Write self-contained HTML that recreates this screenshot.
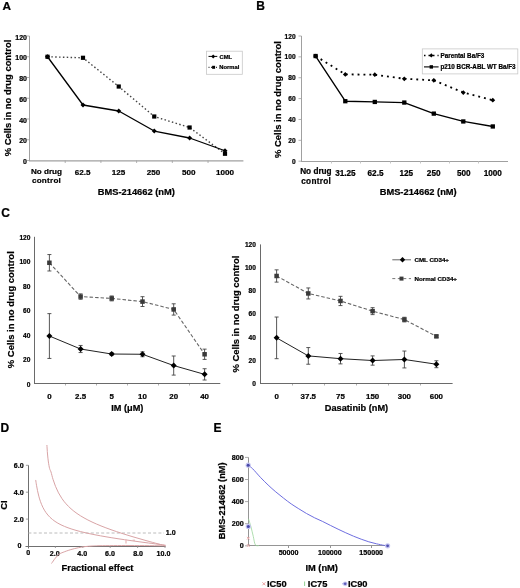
<!DOCTYPE html>
<html><head><meta charset="utf-8"><style>
html,body{margin:0;padding:0;background:#fff;width:520px;height:588px;overflow:hidden}
svg{display:block;font-family:"Liberation Sans", sans-serif;will-change:transform}
text{stroke:#000;stroke-width:0.22px;paint-order:stroke}
</style></head><body>
<svg width="520" height="588" viewBox="0 0 520 588">
<rect width="520" height="588" fill="#fff"/>
<text x="2.50" y="10.40" font-size="11.8" text-anchor="start" font-weight="bold" fill="#000" >A</text>
<line x1="29.50" y1="36.00" x2="29.50" y2="161.00" stroke="#a0a0a0" stroke-width="1" stroke-linecap="butt"/>
<line x1="29.00" y1="160.80" x2="243.40" y2="160.80" stroke="#a0a0a0" stroke-width="1.2" stroke-linecap="butt"/>
<line x1="27.00" y1="160.50" x2="29.50" y2="160.50" stroke="#a0a0a0" stroke-width="0.8" stroke-linecap="butt"/>
<text x="27.00" y="164.15" font-size="7" text-anchor="end" font-weight="bold" fill="#000" >0</text>
<line x1="27.00" y1="139.75" x2="29.50" y2="139.75" stroke="#a0a0a0" stroke-width="0.8" stroke-linecap="butt"/>
<text x="27.00" y="143.40" font-size="7" text-anchor="end" font-weight="bold" fill="#000" >20</text>
<line x1="27.00" y1="119.00" x2="29.50" y2="119.00" stroke="#a0a0a0" stroke-width="0.8" stroke-linecap="butt"/>
<text x="27.00" y="122.65" font-size="7" text-anchor="end" font-weight="bold" fill="#000" >40</text>
<line x1="27.00" y1="98.25" x2="29.50" y2="98.25" stroke="#a0a0a0" stroke-width="0.8" stroke-linecap="butt"/>
<text x="27.00" y="101.90" font-size="7" text-anchor="end" font-weight="bold" fill="#000" >60</text>
<line x1="27.00" y1="77.50" x2="29.50" y2="77.50" stroke="#a0a0a0" stroke-width="0.8" stroke-linecap="butt"/>
<text x="27.00" y="81.15" font-size="7" text-anchor="end" font-weight="bold" fill="#000" >80</text>
<line x1="27.00" y1="56.75" x2="29.50" y2="56.75" stroke="#a0a0a0" stroke-width="0.8" stroke-linecap="butt"/>
<text x="27.00" y="60.40" font-size="7" text-anchor="end" font-weight="bold" fill="#000" >100</text>
<line x1="27.00" y1="36.00" x2="29.50" y2="36.00" stroke="#a0a0a0" stroke-width="0.8" stroke-linecap="butt"/>
<text x="27.00" y="39.65" font-size="7" text-anchor="end" font-weight="bold" fill="#000" >120</text>
<line x1="65.21" y1="160.50" x2="65.21" y2="163.00" stroke="#a0a0a0" stroke-width="0.8" stroke-linecap="butt"/>
<line x1="100.92" y1="160.50" x2="100.92" y2="163.00" stroke="#a0a0a0" stroke-width="0.8" stroke-linecap="butt"/>
<line x1="136.62" y1="160.50" x2="136.62" y2="163.00" stroke="#a0a0a0" stroke-width="0.8" stroke-linecap="butt"/>
<line x1="172.33" y1="160.50" x2="172.33" y2="163.00" stroke="#a0a0a0" stroke-width="0.8" stroke-linecap="butt"/>
<line x1="208.04" y1="160.50" x2="208.04" y2="163.00" stroke="#a0a0a0" stroke-width="0.8" stroke-linecap="butt"/>
<text x="46.50" y="173.90" font-size="8.1" text-anchor="middle" font-weight="bold" fill="#000" >No drug</text>
<text x="46.50" y="183.20" font-size="8.1" text-anchor="middle" font-weight="bold" fill="#000" letter-spacing="0.25">control</text>
<text x="82.70" y="174.84" font-size="8.1" text-anchor="middle" font-weight="bold" fill="#000" >62.5</text>
<text x="118.50" y="174.84" font-size="8.1" text-anchor="middle" font-weight="bold" fill="#000" >125</text>
<text x="153.40" y="174.84" font-size="8.1" text-anchor="middle" font-weight="bold" fill="#000" >250</text>
<text x="188.80" y="174.84" font-size="8.1" text-anchor="middle" font-weight="bold" fill="#000" >500</text>
<text x="225.10" y="174.84" font-size="8.1" text-anchor="middle" font-weight="bold" fill="#000" >1000</text>
<text x="136.30" y="195.40" font-size="9.3" text-anchor="middle" font-weight="bold" fill="#000" >BMS-214662 (nM)</text>
<text transform="translate(11.20,98.00) rotate(-90)" x="0" y="0" font-size="9.42" text-anchor="middle" font-weight="bold">% Cells in no drug control</text>
<polyline points="47.50,56.75 83.00,57.79 118.75,86.53 154.25,116.51 189.60,127.51 225.00,153.76" fill="none" stroke="#444" stroke-width="1.4" stroke-dasharray="1.5 2.35" stroke-linecap="butt" stroke-linejoin="round"/>
<polyline points="47.50,56.75 83.00,104.99 118.75,111.01 154.25,131.03 189.60,137.99 225.00,150.75" fill="none" stroke="#000" stroke-width="1.3" stroke-linecap="butt" stroke-linejoin="round"/>
<polygon points="47.50,54.25 50.00,56.75 47.50,59.25 45.00,56.75" fill="#000"/>
<polygon points="83.00,102.49 85.50,104.99 83.00,107.49 80.50,104.99" fill="#000"/>
<polygon points="118.75,108.51 121.25,111.01 118.75,113.51 116.25,111.01" fill="#000"/>
<polygon points="154.25,128.53 156.75,131.03 154.25,133.53 151.75,131.03" fill="#000"/>
<polygon points="189.60,135.49 192.10,137.99 189.60,140.49 187.10,137.99" fill="#000"/>
<polygon points="225.00,148.25 227.50,150.75 225.00,153.25 222.50,150.75" fill="#000"/>
<rect x="45.40" y="54.65" width="4.2" height="4.2" fill="#000"/>
<rect x="80.90" y="55.69" width="4.2" height="4.2" fill="#000"/>
<rect x="116.65" y="84.43" width="4.2" height="4.2" fill="#000"/>
<rect x="152.15" y="114.41" width="4.2" height="4.2" fill="#000"/>
<rect x="187.50" y="125.41" width="4.2" height="4.2" fill="#000"/>
<rect x="222.90" y="151.66" width="4.2" height="4.2" fill="#000"/>
<rect x="206.5" y="51.2" width="35.8" height="23.1" fill="#fff" stroke="#c8c8c8" stroke-width="0.8"/>
<line x1="208.50" y1="56.40" x2="217.30" y2="56.40" stroke="#000" stroke-width="1" stroke-linecap="butt"/>
<polygon points="213.20,54.40 215.20,56.40 213.20,58.40 211.20,56.40" fill="#000"/>
<line x1="208.50" y1="67.30" x2="217.30" y2="67.30" stroke="#000" stroke-width="1" stroke-dasharray="1 1.5" stroke-linecap="butt"/>
<rect x="212.10" y="65.80" width="3" height="3" fill="#000"/>
<text x="219.60" y="58.80" font-size="5.8" text-anchor="start" font-weight="bold" fill="#000" >CML</text>
<text x="219.30" y="69.10" font-size="5.8" text-anchor="start" font-weight="bold" fill="#000" >Normal</text>
<text x="256.20" y="9.80" font-size="12" text-anchor="start" font-weight="bold" fill="#000" >B</text>
<line x1="301.50" y1="36.00" x2="301.50" y2="162.00" stroke="#a0a0a0" stroke-width="1" stroke-linecap="butt"/>
<line x1="301.00" y1="161.50" x2="508.00" y2="161.50" stroke="#a0a0a0" stroke-width="1" stroke-linecap="butt"/>
<line x1="298.50" y1="161.20" x2="301.50" y2="161.20" stroke="#a0a0a0" stroke-width="0.8" stroke-linecap="butt"/>
<text x="295.60" y="163.81" font-size="6.6" text-anchor="end" font-weight="bold" fill="#000" >0</text>
<line x1="298.50" y1="140.33" x2="301.50" y2="140.33" stroke="#a0a0a0" stroke-width="0.8" stroke-linecap="butt"/>
<text x="295.60" y="142.94" font-size="6.6" text-anchor="end" font-weight="bold" fill="#000" >20</text>
<line x1="298.50" y1="119.47" x2="301.50" y2="119.47" stroke="#a0a0a0" stroke-width="0.8" stroke-linecap="butt"/>
<text x="295.60" y="122.08" font-size="6.6" text-anchor="end" font-weight="bold" fill="#000" >40</text>
<line x1="298.50" y1="98.60" x2="301.50" y2="98.60" stroke="#a0a0a0" stroke-width="0.8" stroke-linecap="butt"/>
<text x="295.60" y="101.21" font-size="6.6" text-anchor="end" font-weight="bold" fill="#000" >60</text>
<line x1="298.50" y1="77.73" x2="301.50" y2="77.73" stroke="#a0a0a0" stroke-width="0.8" stroke-linecap="butt"/>
<text x="295.60" y="80.34" font-size="6.6" text-anchor="end" font-weight="bold" fill="#000" >80</text>
<line x1="298.50" y1="56.87" x2="301.50" y2="56.87" stroke="#a0a0a0" stroke-width="0.8" stroke-linecap="butt"/>
<text x="295.60" y="59.48" font-size="6.6" text-anchor="end" font-weight="bold" fill="#000" >100</text>
<line x1="298.50" y1="36.00" x2="301.50" y2="36.00" stroke="#a0a0a0" stroke-width="0.8" stroke-linecap="butt"/>
<text x="295.60" y="38.61" font-size="6.6" text-anchor="end" font-weight="bold" fill="#000" >120</text>
<line x1="331.50" y1="161.50" x2="331.50" y2="163.50" stroke="#c8c8c8" stroke-width="1" stroke-linecap="butt"/>
<line x1="360.50" y1="161.50" x2="360.50" y2="163.50" stroke="#c8c8c8" stroke-width="1" stroke-linecap="butt"/>
<line x1="390.50" y1="161.50" x2="390.50" y2="163.50" stroke="#c8c8c8" stroke-width="1" stroke-linecap="butt"/>
<line x1="420.50" y1="161.50" x2="420.50" y2="163.50" stroke="#c8c8c8" stroke-width="1" stroke-linecap="butt"/>
<line x1="449.50" y1="161.50" x2="449.50" y2="163.50" stroke="#c8c8c8" stroke-width="1" stroke-linecap="butt"/>
<line x1="478.50" y1="161.50" x2="478.50" y2="163.50" stroke="#c8c8c8" stroke-width="1" stroke-linecap="butt"/>
<text x="315.90" y="173.60" font-size="8.2" text-anchor="middle" font-weight="bold" fill="#000" >No drug</text>
<text x="316.20" y="184.00" font-size="8.2" text-anchor="middle" font-weight="bold" fill="#000" letter-spacing="0.3">control</text>
<text x="345.45" y="175.67" font-size="8.2" text-anchor="middle" font-weight="bold" fill="#000" >31.25</text>
<text x="375.50" y="175.67" font-size="8.2" text-anchor="middle" font-weight="bold" fill="#000" >62.5</text>
<text x="406.30" y="175.67" font-size="8.2" text-anchor="middle" font-weight="bold" fill="#000" >125</text>
<text x="433.70" y="175.67" font-size="8.2" text-anchor="middle" font-weight="bold" fill="#000" >250</text>
<text x="463.80" y="175.67" font-size="8.2" text-anchor="middle" font-weight="bold" fill="#000" >500</text>
<text x="492.80" y="175.67" font-size="8.2" text-anchor="middle" font-weight="bold" fill="#000" >1000</text>
<text x="418.20" y="195.40" font-size="9.3" text-anchor="middle" font-weight="bold" fill="#000" >BMS-214662 (nM)</text>
<text transform="translate(280.70,99.60) rotate(-90)" x="0" y="0" font-size="9.45" text-anchor="middle" font-weight="bold">% Cells in no drug control</text>
<polyline points="315.60,56.03 345.30,74.39 374.80,74.71 404.30,78.78 433.80,80.34 463.30,92.55 492.80,100.16" fill="none" stroke="#000" stroke-width="1.8" stroke-dasharray="1.9 4.0" stroke-linecap="butt" stroke-linejoin="round"/>
<polyline points="315.60,56.03 345.30,101.21 374.80,101.94 404.30,102.56 433.80,113.62 463.30,121.45 492.80,126.46" fill="none" stroke="#000" stroke-width="1.35" stroke-linecap="butt" stroke-linejoin="round"/>
<polygon points="315.60,53.63 318.00,56.03 315.60,58.43 313.20,56.03" fill="#000"/>
<polygon points="345.30,71.99 347.70,74.39 345.30,76.79 342.90,74.39" fill="#000"/>
<polygon points="374.80,72.31 377.20,74.71 374.80,77.11 372.40,74.71" fill="#000"/>
<polygon points="404.30,76.38 406.70,78.78 404.30,81.18 401.90,78.78" fill="#000"/>
<polygon points="433.80,77.94 436.20,80.34 433.80,82.74 431.40,80.34" fill="#000"/>
<polygon points="463.30,90.15 465.70,92.55 463.30,94.95 460.90,92.55" fill="#000"/>
<polygon points="492.80,97.76 495.20,100.16 492.80,102.56 490.40,100.16" fill="#000"/>
<rect x="313.45" y="53.88" width="4.3" height="4.3" fill="#000"/>
<rect x="343.15" y="99.06" width="4.3" height="4.3" fill="#000"/>
<rect x="372.65" y="99.79" width="4.3" height="4.3" fill="#000"/>
<rect x="402.15" y="100.41" width="4.3" height="4.3" fill="#000"/>
<rect x="431.65" y="111.47" width="4.3" height="4.3" fill="#000"/>
<rect x="461.15" y="119.30" width="4.3" height="4.3" fill="#000"/>
<rect x="490.65" y="124.31" width="4.3" height="4.3" fill="#000"/>
<rect x="422.3" y="48.9" width="95.5" height="25" fill="#fff" stroke="#c8c8c8" stroke-width="0.8"/>
<line x1="424.00" y1="55.40" x2="438.60" y2="55.40" stroke="#000" stroke-width="1.5" stroke-dasharray="1.5 3" stroke-linecap="butt"/>
<polygon points="431.30,53.30 433.40,55.40 431.30,57.50 429.20,55.40" fill="#000"/>
<line x1="424.00" y1="66.90" x2="438.60" y2="66.90" stroke="#000" stroke-width="1.1" stroke-linecap="butt"/>
<rect x="429.60" y="65.20" width="3.4" height="3.4" fill="#000"/>
<text x="440.50" y="58.20" font-size="6.3" text-anchor="start" font-weight="bold" fill="#000" >Parental Ba/F3</text>
<text x="440.50" y="69.30" font-size="6.3" text-anchor="start" font-weight="bold" fill="#000" >p210 BCR-ABL WT Ba/F3</text>
<text x="1.30" y="216.80" font-size="12" text-anchor="start" font-weight="bold" fill="#000" >C</text>
<line x1="34.50" y1="236.80" x2="34.50" y2="384.00" stroke="#6a6a6a" stroke-width="1" stroke-linecap="butt"/>
<line x1="34.00" y1="383.50" x2="220.30" y2="383.50" stroke="#6a6a6a" stroke-width="1" stroke-linecap="butt"/>
<text x="30.40" y="386.61" font-size="6.6" text-anchor="end" font-weight="bold" fill="#000" >0</text>
<text x="30.40" y="362.11" font-size="6.6" text-anchor="end" font-weight="bold" fill="#000" >20</text>
<text x="30.40" y="337.61" font-size="6.6" text-anchor="end" font-weight="bold" fill="#000" >40</text>
<text x="30.40" y="313.11" font-size="6.6" text-anchor="end" font-weight="bold" fill="#000" >60</text>
<text x="30.40" y="288.61" font-size="6.6" text-anchor="end" font-weight="bold" fill="#000" >80</text>
<text x="30.40" y="264.11" font-size="6.6" text-anchor="end" font-weight="bold" fill="#000" >100</text>
<text x="30.40" y="239.61" font-size="6.6" text-anchor="end" font-weight="bold" fill="#000" >120</text>
<line x1="65.50" y1="384.00" x2="65.50" y2="385.50" stroke="#b0b0b0" stroke-width="1" stroke-linecap="butt"/>
<line x1="96.50" y1="384.00" x2="96.50" y2="385.50" stroke="#b0b0b0" stroke-width="1" stroke-linecap="butt"/>
<line x1="127.50" y1="384.00" x2="127.50" y2="385.50" stroke="#b0b0b0" stroke-width="1" stroke-linecap="butt"/>
<line x1="158.50" y1="384.00" x2="158.50" y2="385.50" stroke="#b0b0b0" stroke-width="1" stroke-linecap="butt"/>
<line x1="189.50" y1="384.00" x2="189.50" y2="385.50" stroke="#b0b0b0" stroke-width="1" stroke-linecap="butt"/>
<text x="49.40" y="398.56" font-size="7.9" text-anchor="middle" font-weight="bold" fill="#000" >0</text>
<text x="80.60" y="398.56" font-size="7.9" text-anchor="middle" font-weight="bold" fill="#000" >2.5</text>
<text x="111.70" y="398.56" font-size="7.9" text-anchor="middle" font-weight="bold" fill="#000" >5</text>
<text x="142.50" y="398.56" font-size="7.9" text-anchor="middle" font-weight="bold" fill="#000" >10</text>
<text x="173.70" y="398.56" font-size="7.9" text-anchor="middle" font-weight="bold" fill="#000" >20</text>
<text x="204.60" y="398.56" font-size="7.9" text-anchor="middle" font-weight="bold" fill="#000" >40</text>
<text x="127.30" y="410.90" font-size="9.2" text-anchor="middle" font-weight="bold" fill="#000" >IM (μM)</text>
<text transform="translate(14.30,309.70) rotate(-90)" x="0" y="0" font-size="9.45" text-anchor="middle" font-weight="bold">% Cells in no drug control</text>
<polyline points="49.40,262.77 80.60,296.58 111.70,298.42 142.50,301.60 173.70,309.44 204.60,354.28" fill="none" stroke="#666" stroke-width="1.1" stroke-dasharray="3.5 2" stroke-linecap="butt" stroke-linejoin="round"/>
<polyline points="49.40,336.03 80.60,349.01 111.70,354.03 142.50,354.28 173.70,365.55 204.60,374.37" fill="none" stroke="#222" stroke-width="1" stroke-linecap="butt" stroke-linejoin="round"/>
<line x1="49.40" y1="254.56" x2="49.40" y2="270.98" stroke="#444" stroke-width="0.9" stroke-linecap="butt"/>
<line x1="47.40" y1="254.56" x2="51.40" y2="254.56" stroke="#444" stroke-width="0.9" stroke-linecap="butt"/>
<line x1="47.40" y1="270.98" x2="51.40" y2="270.98" stroke="#444" stroke-width="0.9" stroke-linecap="butt"/>
<line x1="49.40" y1="313.61" x2="49.40" y2="358.44" stroke="#444" stroke-width="0.9" stroke-linecap="butt"/>
<line x1="47.40" y1="313.61" x2="51.40" y2="313.61" stroke="#444" stroke-width="0.9" stroke-linecap="butt"/>
<line x1="47.40" y1="358.44" x2="51.40" y2="358.44" stroke="#444" stroke-width="0.9" stroke-linecap="butt"/>
<line x1="80.60" y1="293.88" x2="80.60" y2="299.27" stroke="#444" stroke-width="0.9" stroke-linecap="butt"/>
<line x1="78.60" y1="293.88" x2="82.60" y2="293.88" stroke="#444" stroke-width="0.9" stroke-linecap="butt"/>
<line x1="78.60" y1="299.27" x2="82.60" y2="299.27" stroke="#444" stroke-width="0.9" stroke-linecap="butt"/>
<line x1="80.60" y1="345.46" x2="80.60" y2="352.56" stroke="#444" stroke-width="0.9" stroke-linecap="butt"/>
<line x1="78.60" y1="345.46" x2="82.60" y2="345.46" stroke="#444" stroke-width="0.9" stroke-linecap="butt"/>
<line x1="78.60" y1="352.56" x2="82.60" y2="352.56" stroke="#444" stroke-width="0.9" stroke-linecap="butt"/>
<line x1="111.70" y1="295.97" x2="111.70" y2="300.87" stroke="#444" stroke-width="0.9" stroke-linecap="butt"/>
<line x1="109.70" y1="295.97" x2="113.70" y2="295.97" stroke="#444" stroke-width="0.9" stroke-linecap="butt"/>
<line x1="109.70" y1="300.87" x2="113.70" y2="300.87" stroke="#444" stroke-width="0.9" stroke-linecap="butt"/>
<line x1="111.70" y1="352.81" x2="111.70" y2="355.26" stroke="#444" stroke-width="0.9" stroke-linecap="butt"/>
<line x1="109.70" y1="352.81" x2="113.70" y2="352.81" stroke="#444" stroke-width="0.9" stroke-linecap="butt"/>
<line x1="109.70" y1="355.26" x2="113.70" y2="355.26" stroke="#444" stroke-width="0.9" stroke-linecap="butt"/>
<line x1="142.50" y1="296.70" x2="142.50" y2="306.50" stroke="#444" stroke-width="0.9" stroke-linecap="butt"/>
<line x1="140.50" y1="296.70" x2="144.50" y2="296.70" stroke="#444" stroke-width="0.9" stroke-linecap="butt"/>
<line x1="140.50" y1="306.50" x2="144.50" y2="306.50" stroke="#444" stroke-width="0.9" stroke-linecap="butt"/>
<line x1="142.50" y1="351.83" x2="142.50" y2="356.73" stroke="#444" stroke-width="0.9" stroke-linecap="butt"/>
<line x1="140.50" y1="351.83" x2="144.50" y2="351.83" stroke="#444" stroke-width="0.9" stroke-linecap="butt"/>
<line x1="140.50" y1="356.73" x2="144.50" y2="356.73" stroke="#444" stroke-width="0.9" stroke-linecap="butt"/>
<line x1="173.70" y1="303.81" x2="173.70" y2="315.08" stroke="#444" stroke-width="0.9" stroke-linecap="butt"/>
<line x1="171.70" y1="303.81" x2="175.70" y2="303.81" stroke="#444" stroke-width="0.9" stroke-linecap="butt"/>
<line x1="171.70" y1="315.08" x2="175.70" y2="315.08" stroke="#444" stroke-width="0.9" stroke-linecap="butt"/>
<line x1="173.70" y1="355.99" x2="173.70" y2="375.10" stroke="#444" stroke-width="0.9" stroke-linecap="butt"/>
<line x1="171.70" y1="355.99" x2="175.70" y2="355.99" stroke="#444" stroke-width="0.9" stroke-linecap="butt"/>
<line x1="171.70" y1="375.10" x2="175.70" y2="375.10" stroke="#444" stroke-width="0.9" stroke-linecap="butt"/>
<line x1="204.60" y1="349.13" x2="204.60" y2="359.42" stroke="#444" stroke-width="0.9" stroke-linecap="butt"/>
<line x1="202.60" y1="349.13" x2="206.60" y2="349.13" stroke="#444" stroke-width="0.9" stroke-linecap="butt"/>
<line x1="202.60" y1="359.42" x2="206.60" y2="359.42" stroke="#444" stroke-width="0.9" stroke-linecap="butt"/>
<line x1="204.60" y1="368.73" x2="204.60" y2="380.00" stroke="#444" stroke-width="0.9" stroke-linecap="butt"/>
<line x1="202.60" y1="368.73" x2="206.60" y2="368.73" stroke="#444" stroke-width="0.9" stroke-linecap="butt"/>
<line x1="202.60" y1="380.00" x2="206.60" y2="380.00" stroke="#444" stroke-width="0.9" stroke-linecap="butt"/>
<rect x="47.15" y="260.52" width="4.5" height="4.5" fill="#3a3a3a"/>
<rect x="78.35" y="294.33" width="4.5" height="4.5" fill="#3a3a3a"/>
<rect x="109.45" y="296.17" width="4.5" height="4.5" fill="#3a3a3a"/>
<rect x="140.25" y="299.35" width="4.5" height="4.5" fill="#3a3a3a"/>
<rect x="171.45" y="307.19" width="4.5" height="4.5" fill="#3a3a3a"/>
<rect x="202.35" y="352.03" width="4.5" height="4.5" fill="#3a3a3a"/>
<polygon points="49.40,333.03 52.40,336.03 49.40,339.03 46.40,336.03" fill="#000"/>
<polygon points="80.60,346.01 83.60,349.01 80.60,352.01 77.60,349.01" fill="#000"/>
<polygon points="111.70,351.03 114.70,354.03 111.70,357.03 108.70,354.03" fill="#000"/>
<polygon points="142.50,351.28 145.50,354.28 142.50,357.28 139.50,354.28" fill="#000"/>
<polygon points="173.70,362.55 176.70,365.55 173.70,368.55 170.70,365.55" fill="#000"/>
<polygon points="204.60,371.37 207.60,374.37 204.60,377.37 201.60,374.37" fill="#000"/>
<line x1="260.50" y1="244.40" x2="260.50" y2="384.00" stroke="#6a6a6a" stroke-width="1" stroke-linecap="butt"/>
<line x1="260.00" y1="383.50" x2="452.60" y2="383.50" stroke="#6a6a6a" stroke-width="1" stroke-linecap="butt"/>
<text x="255.90" y="385.86" font-size="6.6" text-anchor="end" font-weight="bold" fill="#000" >0</text>
<text x="255.90" y="362.73" font-size="6.6" text-anchor="end" font-weight="bold" fill="#000" >20</text>
<text x="255.90" y="339.59" font-size="6.6" text-anchor="end" font-weight="bold" fill="#000" >40</text>
<text x="255.90" y="316.46" font-size="6.6" text-anchor="end" font-weight="bold" fill="#000" >60</text>
<text x="255.90" y="293.33" font-size="6.6" text-anchor="end" font-weight="bold" fill="#000" >80</text>
<text x="255.90" y="270.19" font-size="6.6" text-anchor="end" font-weight="bold" fill="#000" >100</text>
<text x="255.90" y="247.06" font-size="6.6" text-anchor="end" font-weight="bold" fill="#000" >120</text>
<line x1="292.50" y1="384.00" x2="292.50" y2="385.50" stroke="#b0b0b0" stroke-width="1" stroke-linecap="butt"/>
<line x1="324.50" y1="384.00" x2="324.50" y2="385.50" stroke="#b0b0b0" stroke-width="1" stroke-linecap="butt"/>
<line x1="356.50" y1="384.00" x2="356.50" y2="385.50" stroke="#b0b0b0" stroke-width="1" stroke-linecap="butt"/>
<line x1="388.50" y1="384.00" x2="388.50" y2="385.50" stroke="#b0b0b0" stroke-width="1" stroke-linecap="butt"/>
<line x1="420.50" y1="384.00" x2="420.50" y2="385.50" stroke="#b0b0b0" stroke-width="1" stroke-linecap="butt"/>
<text x="276.60" y="398.76" font-size="7.9" text-anchor="middle" font-weight="bold" fill="#000" >0</text>
<text x="308.30" y="398.76" font-size="7.9" text-anchor="middle" font-weight="bold" fill="#000" >37.5</text>
<text x="340.50" y="398.76" font-size="7.9" text-anchor="middle" font-weight="bold" fill="#000" >75</text>
<text x="372.60" y="398.76" font-size="7.9" text-anchor="middle" font-weight="bold" fill="#000" >150</text>
<text x="404.40" y="398.76" font-size="7.9" text-anchor="middle" font-weight="bold" fill="#000" >300</text>
<text x="436.40" y="398.76" font-size="7.9" text-anchor="middle" font-weight="bold" fill="#000" >600</text>
<text x="356.50" y="411.00" font-size="9.2" text-anchor="middle" font-weight="bold" fill="#000" >Dasatinib (nM)</text>
<text transform="translate(239.20,314.10) rotate(-90)" x="0" y="0" font-size="9.45" text-anchor="middle" font-weight="bold">% Cells in no drug control</text>
<polyline points="276.60,275.98 308.30,293.44 340.50,300.96 372.60,311.14 404.40,319.58 436.40,336.36" fill="none" stroke="#666" stroke-width="1.1" stroke-dasharray="3.5 2" stroke-linecap="butt" stroke-linejoin="round"/>
<polyline points="276.60,337.86 308.30,355.90 340.50,358.68 372.60,360.53 404.40,359.49 436.40,364.23" fill="none" stroke="#222" stroke-width="1" stroke-linecap="butt" stroke-linejoin="round"/>
<line x1="276.60" y1="269.85" x2="276.60" y2="282.11" stroke="#444" stroke-width="0.9" stroke-linecap="butt"/>
<line x1="274.60" y1="269.85" x2="278.60" y2="269.85" stroke="#444" stroke-width="0.9" stroke-linecap="butt"/>
<line x1="274.60" y1="282.11" x2="278.60" y2="282.11" stroke="#444" stroke-width="0.9" stroke-linecap="butt"/>
<line x1="276.60" y1="317.04" x2="276.60" y2="358.68" stroke="#444" stroke-width="0.9" stroke-linecap="butt"/>
<line x1="274.60" y1="317.04" x2="278.60" y2="317.04" stroke="#444" stroke-width="0.9" stroke-linecap="butt"/>
<line x1="274.60" y1="358.68" x2="278.60" y2="358.68" stroke="#444" stroke-width="0.9" stroke-linecap="butt"/>
<line x1="308.30" y1="287.95" x2="308.30" y2="298.94" stroke="#444" stroke-width="0.9" stroke-linecap="butt"/>
<line x1="306.30" y1="287.95" x2="310.30" y2="287.95" stroke="#444" stroke-width="0.9" stroke-linecap="butt"/>
<line x1="306.30" y1="298.94" x2="310.30" y2="298.94" stroke="#444" stroke-width="0.9" stroke-linecap="butt"/>
<line x1="308.30" y1="347.57" x2="308.30" y2="364.23" stroke="#444" stroke-width="0.9" stroke-linecap="butt"/>
<line x1="306.30" y1="347.57" x2="310.30" y2="347.57" stroke="#444" stroke-width="0.9" stroke-linecap="butt"/>
<line x1="306.30" y1="364.23" x2="310.30" y2="364.23" stroke="#444" stroke-width="0.9" stroke-linecap="butt"/>
<line x1="340.50" y1="296.33" x2="340.50" y2="305.59" stroke="#444" stroke-width="0.9" stroke-linecap="butt"/>
<line x1="338.50" y1="296.33" x2="342.50" y2="296.33" stroke="#444" stroke-width="0.9" stroke-linecap="butt"/>
<line x1="338.50" y1="305.59" x2="342.50" y2="305.59" stroke="#444" stroke-width="0.9" stroke-linecap="butt"/>
<line x1="340.50" y1="353.47" x2="340.50" y2="363.88" stroke="#444" stroke-width="0.9" stroke-linecap="butt"/>
<line x1="338.50" y1="353.47" x2="342.50" y2="353.47" stroke="#444" stroke-width="0.9" stroke-linecap="butt"/>
<line x1="338.50" y1="363.88" x2="342.50" y2="363.88" stroke="#444" stroke-width="0.9" stroke-linecap="butt"/>
<line x1="372.60" y1="307.67" x2="372.60" y2="314.61" stroke="#444" stroke-width="0.9" stroke-linecap="butt"/>
<line x1="370.60" y1="307.67" x2="374.60" y2="307.67" stroke="#444" stroke-width="0.9" stroke-linecap="butt"/>
<line x1="370.60" y1="314.61" x2="374.60" y2="314.61" stroke="#444" stroke-width="0.9" stroke-linecap="butt"/>
<line x1="372.60" y1="355.90" x2="372.60" y2="365.16" stroke="#444" stroke-width="0.9" stroke-linecap="butt"/>
<line x1="370.60" y1="355.90" x2="374.60" y2="355.90" stroke="#444" stroke-width="0.9" stroke-linecap="butt"/>
<line x1="370.60" y1="365.16" x2="374.60" y2="365.16" stroke="#444" stroke-width="0.9" stroke-linecap="butt"/>
<line x1="404.40" y1="317.27" x2="404.40" y2="321.90" stroke="#444" stroke-width="0.9" stroke-linecap="butt"/>
<line x1="402.40" y1="317.27" x2="406.40" y2="317.27" stroke="#444" stroke-width="0.9" stroke-linecap="butt"/>
<line x1="402.40" y1="321.90" x2="406.40" y2="321.90" stroke="#444" stroke-width="0.9" stroke-linecap="butt"/>
<line x1="404.40" y1="351.04" x2="404.40" y2="367.93" stroke="#444" stroke-width="0.9" stroke-linecap="butt"/>
<line x1="402.40" y1="351.04" x2="406.40" y2="351.04" stroke="#444" stroke-width="0.9" stroke-linecap="butt"/>
<line x1="402.40" y1="367.93" x2="406.40" y2="367.93" stroke="#444" stroke-width="0.9" stroke-linecap="butt"/>
<line x1="436.40" y1="335.20" x2="436.40" y2="337.51" stroke="#444" stroke-width="0.9" stroke-linecap="butt"/>
<line x1="434.40" y1="335.20" x2="438.40" y2="335.20" stroke="#444" stroke-width="0.9" stroke-linecap="butt"/>
<line x1="434.40" y1="337.51" x2="438.40" y2="337.51" stroke="#444" stroke-width="0.9" stroke-linecap="butt"/>
<line x1="436.40" y1="360.76" x2="436.40" y2="367.70" stroke="#444" stroke-width="0.9" stroke-linecap="butt"/>
<line x1="434.40" y1="360.76" x2="438.40" y2="360.76" stroke="#444" stroke-width="0.9" stroke-linecap="butt"/>
<line x1="434.40" y1="367.70" x2="438.40" y2="367.70" stroke="#444" stroke-width="0.9" stroke-linecap="butt"/>
<rect x="274.35" y="273.73" width="4.5" height="4.5" fill="#3a3a3a"/>
<rect x="306.05" y="291.19" width="4.5" height="4.5" fill="#3a3a3a"/>
<rect x="338.25" y="298.71" width="4.5" height="4.5" fill="#3a3a3a"/>
<rect x="370.35" y="308.89" width="4.5" height="4.5" fill="#3a3a3a"/>
<rect x="402.15" y="317.33" width="4.5" height="4.5" fill="#3a3a3a"/>
<rect x="434.15" y="334.11" width="4.5" height="4.5" fill="#3a3a3a"/>
<polygon points="276.60,334.86 279.60,337.86 276.60,340.86 273.60,337.86" fill="#000"/>
<polygon points="308.30,352.90 311.30,355.90 308.30,358.90 305.30,355.90" fill="#000"/>
<polygon points="340.50,355.68 343.50,358.68 340.50,361.68 337.50,358.68" fill="#000"/>
<polygon points="372.60,357.53 375.60,360.53 372.60,363.53 369.60,360.53" fill="#000"/>
<polygon points="404.40,356.49 407.40,359.49 404.40,362.49 401.40,359.49" fill="#000"/>
<polygon points="436.40,361.23 439.40,364.23 436.40,367.23 433.40,364.23" fill="#000"/>
<line x1="392.30" y1="259.80" x2="411.00" y2="259.80" stroke="#666" stroke-width="1" stroke-linecap="butt"/>
<polygon points="402.50,257.10 405.20,259.80 402.50,262.50 399.80,259.80" fill="#000"/>
<line x1="392.30" y1="278.60" x2="411.00" y2="278.60" stroke="#777" stroke-width="1" stroke-dasharray="3 2.5" stroke-linecap="butt"/>
<rect x="399.50" y="276.60" width="4.0" height="4.0" fill="#3a3a3a"/>
<text x="414.50" y="262.00" font-size="6.2" text-anchor="start" font-weight="bold" fill="#000" >CML CD34+</text>
<text x="414.50" y="280.80" font-size="6.2" text-anchor="start" font-weight="bold" fill="#000" >Normal CD34+</text>
<text x="0.40" y="431.70" font-size="12" text-anchor="start" font-weight="bold" fill="#000" >D</text>
<line x1="28.50" y1="465.30" x2="28.50" y2="548.50" stroke="#707070" stroke-width="1" stroke-linecap="butt"/>
<line x1="25.50" y1="546.50" x2="165.50" y2="546.50" stroke="#707070" stroke-width="1" stroke-linecap="butt"/>
<line x1="25.90" y1="519.10" x2="28.50" y2="519.10" stroke="#888" stroke-width="0.8" stroke-linecap="butt"/>
<line x1="25.90" y1="492.20" x2="28.50" y2="492.20" stroke="#888" stroke-width="0.8" stroke-linecap="butt"/>
<line x1="25.90" y1="465.30" x2="28.50" y2="465.30" stroke="#888" stroke-width="0.8" stroke-linecap="butt"/>
<text x="23.60" y="521.59" font-size="7.1" text-anchor="end" font-weight="bold" fill="#000" >2.0</text>
<text x="23.60" y="494.69" font-size="7.1" text-anchor="end" font-weight="bold" fill="#000" >4.0</text>
<text x="23.60" y="467.79" font-size="7.1" text-anchor="end" font-weight="bold" fill="#000" >6.0</text>
<text x="19.50" y="548.19" font-size="7.1" text-anchor="middle" font-weight="bold" fill="#000" >0</text>
<line x1="55.40" y1="546.00" x2="55.40" y2="548.00" stroke="#888" stroke-width="0.8" stroke-linecap="butt"/>
<line x1="82.80" y1="546.00" x2="82.80" y2="548.00" stroke="#888" stroke-width="0.8" stroke-linecap="butt"/>
<line x1="110.20" y1="546.00" x2="110.20" y2="548.00" stroke="#888" stroke-width="0.8" stroke-linecap="butt"/>
<line x1="137.60" y1="546.00" x2="137.60" y2="548.00" stroke="#888" stroke-width="0.8" stroke-linecap="butt"/>
<line x1="165.00" y1="546.00" x2="165.00" y2="548.00" stroke="#888" stroke-width="0.8" stroke-linecap="butt"/>
<text x="28.20" y="555.49" font-size="7.1" text-anchor="middle" font-weight="bold" fill="#000" >0</text>
<text x="54.80" y="555.59" font-size="7.1" text-anchor="middle" font-weight="bold" fill="#000" >2.0</text>
<text x="82.20" y="555.59" font-size="7.1" text-anchor="middle" font-weight="bold" fill="#000" >4.0</text>
<text x="110.00" y="555.59" font-size="7.1" text-anchor="middle" font-weight="bold" fill="#000" >6.0</text>
<text x="138.10" y="555.59" font-size="7.1" text-anchor="middle" font-weight="bold" fill="#000" >8.0</text>
<text x="163.50" y="555.59" font-size="7.1" text-anchor="middle" font-weight="bold" fill="#000" >10.0</text>
<line x1="28.40" y1="533.00" x2="164.00" y2="533.00" stroke="#b4b4b4" stroke-width="0.9" stroke-dasharray="3 2.2" stroke-linecap="butt"/>
<text x="165.80" y="535.19" font-size="7.1" text-anchor="start" font-weight="bold" fill="#000" >1.0</text>
<text x="97.50" y="571.00" font-size="9.3" text-anchor="middle" font-weight="bold" fill="#000" >Fractional effect</text>
<text transform="translate(7.30,505.00) rotate(-90)" x="0" y="0" font-size="9.5" text-anchor="middle" font-weight="bold">CI</text>
<path d="M46.90,445.00 C47.00,446.50 47.25,451.17 47.50,454.00 C47.75,456.83 48.05,459.58 48.40,462.00 C48.75,464.42 49.17,466.84 49.60,468.50 C50.03,470.16 50.43,470.18 51.00,471.98 C51.57,473.78 52.25,476.91 53.00,479.31 C53.75,481.71 54.58,484.11 55.50,486.37 C56.42,488.63 57.42,490.80 58.50,492.85 C59.58,494.90 60.75,496.83 62.00,498.65 C63.25,500.47 64.50,502.09 66.00,503.78 C67.50,505.47 69.17,507.16 71.00,508.78 C72.83,510.40 74.83,511.97 77.00,513.49 C79.17,515.01 81.50,516.46 84.00,517.88 C86.50,519.30 89.17,520.66 92.00,522.00 C94.83,523.34 97.83,524.64 101.00,525.92 C104.17,527.20 107.50,528.45 111.00,529.70 C114.50,530.95 118.17,532.18 122.00,533.42 C125.83,534.66 130.00,535.93 134.00,537.12 C138.00,538.31 142.00,539.45 146.00,540.57 C150.00,541.69 154.75,542.97 158.00,543.85 C161.25,544.73 164.25,545.50 165.50,545.83" fill="none" stroke="#d9a4a6" stroke-width="1"/>
<path d="M35.70,479.97 C35.83,480.85 36.20,483.49 36.50,485.27 C36.80,487.05 37.12,488.82 37.50,490.64 C37.88,492.45 38.30,494.32 38.80,496.16 C39.30,498.00 39.80,499.78 40.50,501.69 C41.20,503.60 42.08,505.78 43.00,507.60 C43.92,509.42 44.83,511.00 46.00,512.62 C47.17,514.24 48.50,515.85 50.00,517.31 C51.50,518.77 53.17,520.12 55.00,521.38 C56.83,522.63 58.83,523.77 61.00,524.84 C63.17,525.91 65.50,526.87 68.00,527.79 C70.50,528.71 73.17,529.56 76.00,530.37 C78.83,531.18 81.83,531.93 85.00,532.67 C88.17,533.41 91.50,534.10 95.00,534.79 C98.50,535.48 102.17,536.13 106.00,536.79 C109.83,537.45 113.83,538.09 118.00,538.73 C122.17,539.37 126.50,540.00 131.00,540.64 C135.50,541.28 140.50,541.95 145.00,542.55 C149.50,543.15 154.58,543.79 158.00,544.23 C161.42,544.67 164.25,545.01 165.50,545.17" fill="none" stroke="#d9a4a6" stroke-width="1"/>
<path d="M51.50,563.50 C52.15,562.60 54.12,559.65 55.40,558.10 C56.68,556.55 57.92,555.17 59.20,554.20 C60.48,553.23 61.17,553.07 63.10,552.30 C65.03,551.53 68.23,550.37 70.80,549.60 C73.37,548.83 76.13,548.20 78.50,547.70 C80.87,547.20 82.75,546.88 85.00,546.60 C87.25,546.32 89.50,546.15 92.00,546.00 C94.50,545.85 93.67,545.78 100.00,545.70 C106.33,545.62 119.08,545.48 130.00,545.50 C140.92,545.52 159.58,545.75 165.50,545.80" fill="none" stroke="#d9a4a6" stroke-width="1"/>
<line x1="126.00" y1="539.50" x2="126.00" y2="543.40" stroke="#eab8b8" stroke-width="1.2" stroke-linecap="butt"/>
<line x1="132.60" y1="540.20" x2="135.00" y2="540.20" stroke="#e0b0b0" stroke-width="1" stroke-linecap="butt"/>
<text x="213.60" y="431.80" font-size="12" text-anchor="start" font-weight="bold" fill="#000" >E</text>
<line x1="248.50" y1="457.40" x2="248.50" y2="546.00" stroke="#959595" stroke-width="1" stroke-linecap="butt"/>
<line x1="248.00" y1="545.50" x2="388.50" y2="545.50" stroke="#959595" stroke-width="1" stroke-linecap="butt"/>
<line x1="245.00" y1="545.80" x2="248.50" y2="545.80" stroke="#959595" stroke-width="0.8" stroke-linecap="butt"/>
<text x="243.70" y="548.32" font-size="7.2" text-anchor="end" font-weight="bold" fill="#000" >0</text>
<line x1="245.00" y1="523.70" x2="248.50" y2="523.70" stroke="#959595" stroke-width="0.8" stroke-linecap="butt"/>
<text x="243.70" y="526.22" font-size="7.2" text-anchor="end" font-weight="bold" fill="#000" >200</text>
<line x1="245.00" y1="501.60" x2="248.50" y2="501.60" stroke="#959595" stroke-width="0.8" stroke-linecap="butt"/>
<text x="243.70" y="504.12" font-size="7.2" text-anchor="end" font-weight="bold" fill="#000" >400</text>
<line x1="245.00" y1="479.50" x2="248.50" y2="479.50" stroke="#959595" stroke-width="0.8" stroke-linecap="butt"/>
<text x="243.70" y="482.02" font-size="7.2" text-anchor="end" font-weight="bold" fill="#000" >600</text>
<line x1="245.00" y1="457.40" x2="248.50" y2="457.40" stroke="#959595" stroke-width="0.8" stroke-linecap="butt"/>
<text x="243.70" y="459.92" font-size="7.2" text-anchor="end" font-weight="bold" fill="#000" >800</text>
<line x1="288.50" y1="546.00" x2="288.50" y2="548.00" stroke="#7a7a7a" stroke-width="0.8" stroke-linecap="butt"/>
<text x="288.50" y="555.28" font-size="7.1" text-anchor="middle" font-weight="bold" fill="#000" >50000</text>
<line x1="330.50" y1="546.00" x2="330.50" y2="548.00" stroke="#7a7a7a" stroke-width="0.8" stroke-linecap="butt"/>
<text x="329.85" y="555.28" font-size="7.1" text-anchor="middle" font-weight="bold" fill="#000" >100000</text>
<line x1="371.50" y1="546.00" x2="371.50" y2="548.00" stroke="#7a7a7a" stroke-width="0.8" stroke-linecap="butt"/>
<text x="371.20" y="555.28" font-size="7.1" text-anchor="middle" font-weight="bold" fill="#000" >150000</text>
<text x="321.70" y="571.00" font-size="9.3" text-anchor="middle" font-weight="bold" fill="#000" >IM (nM)</text>
<text transform="translate(225.20,500.80) rotate(-90)" x="0" y="0" font-size="9.3" text-anchor="middle" font-weight="bold">BMS-214662 (nM)</text>
<path d="M248.10,465.00 C248.87,465.63 250.65,466.75 252.70,468.80 C254.75,470.85 257.83,474.60 260.40,477.30 C262.97,480.00 265.53,482.57 268.10,485.00 C270.67,487.43 273.23,489.72 275.80,491.90 C278.37,494.08 280.93,496.10 283.50,498.10 C286.07,500.10 288.65,502.12 291.20,503.90 C293.75,505.68 296.25,507.20 298.80,508.80 C301.35,510.40 303.87,512.00 306.50,513.50 C309.13,515.00 311.90,516.47 314.60,517.80 C317.30,519.13 320.07,520.23 322.70,521.50 C325.33,522.77 327.83,524.12 330.40,525.40 C332.97,526.68 335.53,527.97 338.10,529.20 C340.67,530.43 343.23,531.63 345.80,532.80 C348.37,533.97 350.93,535.13 353.50,536.20 C356.07,537.27 358.65,538.27 361.20,539.20 C363.75,540.13 366.25,541.03 368.80,541.80 C371.35,542.57 373.93,543.20 376.50,543.80 C379.07,544.40 382.27,545.07 384.20,545.40 C386.13,545.73 387.45,545.73 388.10,545.80" fill="none" stroke="#6e6ee0" stroke-width="1"/>
<path d="M248.50,518.80 C248.92,520.17 250.20,524.05 251.00,527.00 C251.80,529.95 252.58,533.53 253.30,536.50 C254.02,539.47 254.35,543.28 255.30,544.80 C256.25,546.32 258.38,545.47 259.00,545.60" fill="none" stroke="#9ad69a" stroke-width="0.8"/>
<circle cx="248.2" cy="465.2" r="2.6" fill="#c4c4f0"/><circle cx="248.2" cy="465.2" r="1.5" fill="#4848a8"/>
<circle cx="248.3" cy="526.4" r="2.6" fill="#c4c4f0"/><circle cx="248.3" cy="526.4" r="1.5" fill="#4848a8"/>
<circle cx="387.6" cy="545.8" r="2.6" fill="#c4c4f0"/><circle cx="387.6" cy="545.8" r="1.4" fill="#5050b0"/>
<g stroke="#e8a8a8" stroke-width="1"><line x1="247.0" y1="536.9000000000001" x2="249.60000000000002" y2="539.5"/><line x1="247.0" y1="539.5" x2="249.60000000000002" y2="536.9000000000001"/></g>
<g stroke="#e8a8a8" stroke-width="1"><line x1="247.0" y1="544.2" x2="249.60000000000002" y2="546.8"/><line x1="247.0" y1="546.8" x2="249.60000000000002" y2="544.2"/></g>
<g stroke="#e8a0a0" stroke-width="1"><line x1="262.4" y1="582.3" x2="265.4" y2="585.3"/><line x1="262.4" y1="585.3" x2="265.4" y2="582.3"/></g>
<text x="267.00" y="587.20" font-size="9.3" text-anchor="start" font-weight="bold" fill="#000" >IC50</text>
<line x1="304.60" y1="581.50" x2="304.60" y2="586.00" stroke="#88cc88" stroke-width="0.9" stroke-linecap="butt"/>
<text x="307.80" y="587.20" font-size="9.3" text-anchor="start" font-weight="bold" fill="#000" >IC75</text>
<circle cx="345.2" cy="583.8" r="2.4" fill="#c8c8f0"/><circle cx="345.2" cy="583.8" r="1.3" fill="#5a5ab8"/>
<line x1="342.00" y1="583.80" x2="344.00" y2="583.80" stroke="#9a9ae0" stroke-width="0.8" stroke-linecap="butt"/>
<text x="347.90" y="587.20" font-size="9.3" text-anchor="start" font-weight="bold" fill="#000" >IC90</text>
</svg>
</body></html>
